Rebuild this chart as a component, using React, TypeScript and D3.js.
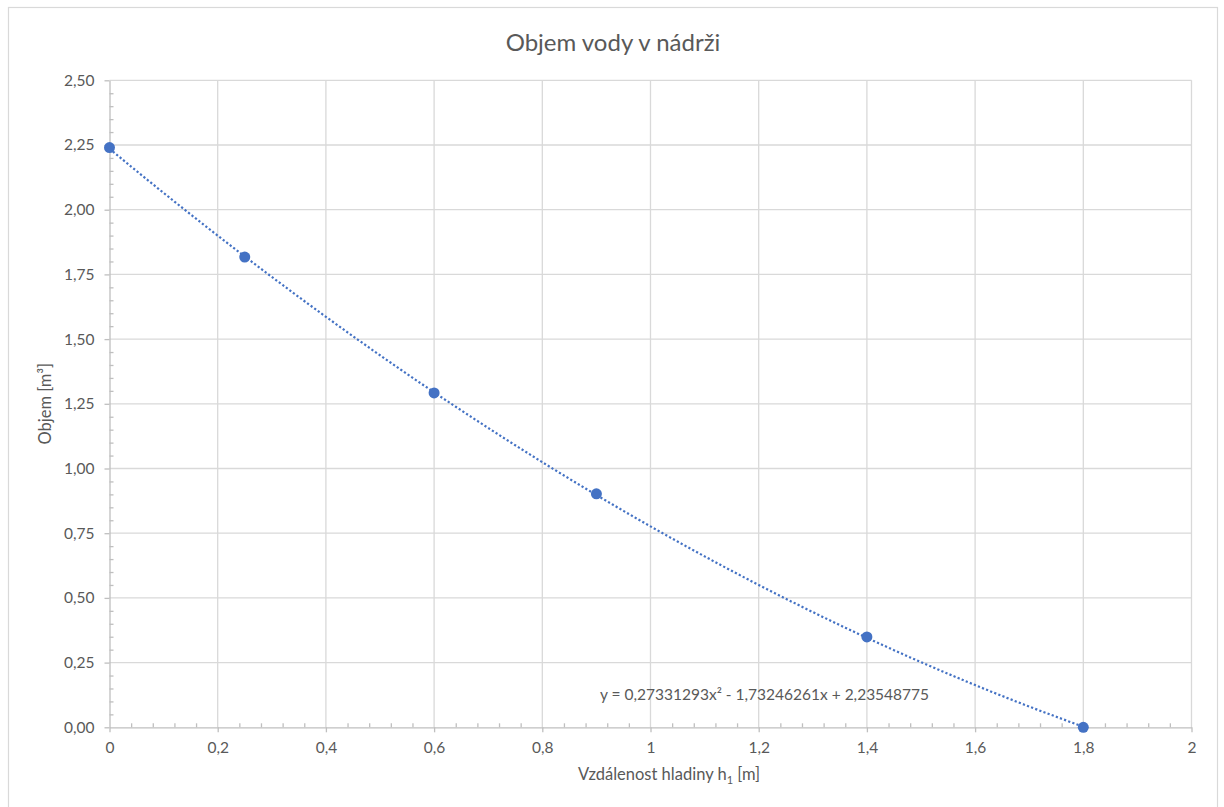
import React, { useEffect, useRef } from 'react';
import * as d3 from 'd3';

// measured values (distance of water level h1 [m] vs. volume [m3])
const hValues = [0, 0.25, 0.6, 0.9, 1.4, 1.8];
const volumeValues = [2.24, 1.817, 1.292, 0.902, 0.349, 0.0];

// polynomial trendline as printed on the chart: a*x^2 + b*x + c
const trendCoefs = [0.27331293, -1.73246261, 2.23548775];
const trendLabel = 'y = 0,27331293x² - 1,73246261x + 2,23548775';

const xTicks = [0, 0.2, 0.4, 0.6, 0.8, 1, 1.2, 1.4, 1.6, 1.8, 2];
const yTicks = [0, 0.25, 0.5, 0.75, 1, 1.25, 1.5, 1.75, 2, 2.25, 2.5];

const title = 'Objem vody v nádrži';

export default function App() {
    const svgRef = useRef<SVGSVGElement>(null);

    useEffect(() => {
        const svg = d3.select(svgRef.current);
        svg.selectAll('*').remove();

        const width = 1224;
        const height = 807;
        const left = 109.5;
        const right = 1191.5;
        const top = 80.3;
        const bottom = 727.3;
        const textColor = '#595959';
        const font = 'Lato, "Open Sans", sans-serif';

        const x = d3.scaleLinear().domain([0, 2]).range([left, right]);
        const y = d3.scaleLinear().domain([0, 2.5]).range([bottom, top]);
        const comma = (v: number, digits: number) => v.toFixed(digits).replace('.', ',');
        const xFmt = (v: number) => (Number.isInteger(v) ? String(v) : comma(v, 1));

        svg.append('rect')
            .attr('x', 0).attr('y', 0)
            .attr('width', width).attr('height', height)
            .attr('fill', '#fff');

        // chart border
        svg.append('rect')
            .attr('x', 8.5).attr('y', 7.5)
            .attr('width', 1209).attr('height', 820)
            .attr('fill', 'none')
            .attr('stroke', '#D9D9D9')
            .attr('stroke-width', 1.2);

        svg.append('text')
            .attr('x', 613).attr('y', 51)
            .attr('text-anchor', 'middle')
            .attr('font-family', font)
            .attr('font-size', 24)
            .attr('fill', textColor)
            .text(title);

        // gridlines
        const grid = svg.append('g').attr('stroke', '#D9D9D9').attr('stroke-width', 1.3);
        grid.selectAll('line.h')
            .data(yTicks.filter(t => t > 0))
            .join('line')
            .attr('x1', left).attr('x2', right)
            .attr('y1', d => y(d)).attr('y2', d => y(d));
        grid.selectAll('line.v')
            .data(xTicks.filter(t => t > 0))
            .join('line')
            .attr('x1', d => x(d)).attr('x2', d => x(d))
            .attr('y1', top).attr('y2', bottom);

        // x axis: major ticks outside, minor inside
        const xMinor = d3.range(0, 2.0001, 0.04).filter(v => Math.abs(v / 0.2 - Math.round(v / 0.2)) > 1e-6);
        svg.append('g')
            .attr('transform', `translate(0,${bottom})`)
            .call(d3.axisBottom(x).tickValues(xMinor).tickSize(-4).tickFormat(() => ''))
            .call(g => g.select('.domain').remove())
            .call(g => g.selectAll('.tick line').attr('stroke', '#BFBFBF').attr('stroke-width', 1.3));
        svg.append('g')
            .attr('transform', `translate(0,${bottom})`)
            .call(d3.axisBottom(x).tickValues(xTicks).tickSize(5).tickSizeOuter(0).tickPadding(10).tickFormat(d => xFmt(+d)))
            .call(g => g.select('.domain').attr('stroke', '#BFBFBF').attr('stroke-width', 1.3))
            .call(g => g.selectAll('.tick line').attr('stroke', '#BFBFBF').attr('stroke-width', 1.3))
            .call(g => g.selectAll('.tick text')
                .attr('font-family', font).attr('font-size', 15.5).attr('fill', textColor));

        // y axis
        const yMinor = d3.range(0, 2.5001, 0.05).filter(v => Math.abs(v / 0.25 - Math.round(v / 0.25)) > 1e-6);
        svg.append('g')
            .attr('transform', `translate(${left},0)`)
            .call(d3.axisLeft(y).tickValues(yMinor).tickSize(-4).tickFormat(() => ''))
            .call(g => g.select('.domain').remove())
            .call(g => g.selectAll('.tick line').attr('stroke', '#BFBFBF').attr('stroke-width', 1.3));
        svg.append('g')
            .attr('transform', `translate(${left},0)`)
            .call(d3.axisLeft(y).tickValues(yTicks).tickSize(5).tickSizeOuter(0).tickPadding(10).tickFormat(d => comma(+d, 2)))
            .call(g => g.select('.domain').attr('stroke', '#BFBFBF').attr('stroke-width', 1.3))
            .call(g => g.selectAll('.tick line').attr('stroke', '#BFBFBF').attr('stroke-width', 1.3))
            .call(g => g.selectAll('.tick text')
                .attr('font-family', font).attr('font-size', 15.5).attr('fill', textColor));

        // axis titles
        const xTitle = svg.append('text')
            .attr('x', 669).attr('y', 780)
            .attr('text-anchor', 'middle')
            .attr('font-family', font)
            .attr('font-size', 16.5)
            .attr('fill', textColor);
        xTitle.append('tspan').text('Vzdálenost hladiny h');
        xTitle.append('tspan').attr('font-size', 11).attr('dy', 4).text('1');
        xTitle.append('tspan').attr('dy', -4).text(' [m]');

        svg.append('text')
            .attr('transform', `translate(51,${(top + bottom) / 2}) rotate(-90)`)
            .attr('text-anchor', 'middle')
            .attr('font-family', font)
            .attr('font-size', 16.5)
            .attr('fill', textColor)
            .text('Objem [m³]');

        // trendline
        const [a, b, c] = trendCoefs;
        const xs = d3.range(0, d3.max(hValues)! + 1e-9, 0.01);
        const line = d3.line<number>()
            .x(d => x(d))
            .y(d => y(a * d * d + b * d + c));
        svg.append('path')
            .datum(xs)
            .attr('fill', 'none')
            .attr('stroke', '#4472C4')
            .attr('stroke-width', 2.2)
            .attr('stroke-dasharray', '2.2,2.2')
            .attr('d', line);

        // markers
        svg.append('g')
            .selectAll('circle')
            .data(hValues.map((h, i) => [h, volumeValues[i]]))
            .join('circle')
            .attr('cx', d => x(d[0]))
            .attr('cy', d => y(d[1]))
            .attr('r', 5.5)
            .attr('fill', '#4472C4');

        svg.append('text')
            .attr('x', 600).attr('y', 700)
            .attr('font-family', font)
            .attr('font-size', 15.5)
            .attr('fill', textColor)
            .text(trendLabel);
    }, []);

    return (
        <svg ref={svgRef} width={1224} height={807}
            style={{ position: 'absolute', left: 0, top: 0 }}></svg>
    );
}
